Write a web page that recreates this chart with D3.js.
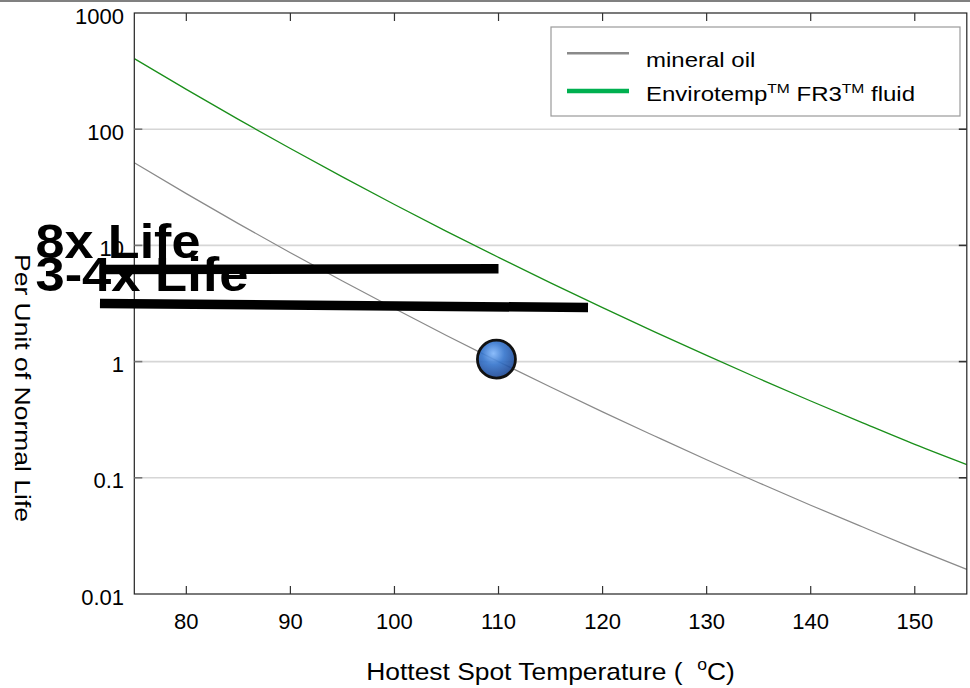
<!DOCTYPE html>
<html>
<head>
<meta charset="utf-8">
<script src="https://cdn.jsdelivr.net/npm/d3@7"></script>
<style>
  html, body { margin: 0; padding: 0; background: #fff; }
  svg { display: block; font-family: "Liberation Sans", Arial, Helvetica, sans-serif; }
</style>
</head>
<body>
<svg id="chart" width="970" height="688"></svg>
<script>
// ---------------- data ----------------
const temps = [75, 80, 85, 90, 95, 100, 105, 110, 115, 120, 125, 130, 135, 140, 145, 150, 155];
const mineralOil = [51.4, 27.9, 15.4, 8.65, 4.94, 2.86, 1.68, 1.0, 0.604, 0.369, 0.229, 0.143, 0.0907, 0.0581, 0.0377, 0.0246, 0.0163];
const fr3Fluid = [405, 220, 121.5, 68.2, 38.9, 22.5, 13.2, 7.89, 4.76, 2.91, 1.80, 1.13, 0.715, 0.458, 0.297, 0.194, 0.13];
const xTicks = [80, 90, 100, 110, 120, 130, 140, 150];
const yTicks = [0.01, 0.1, 1, 10, 100, 1000];
const yTickLabels = ["0.01", "0.1", "1", "10", "100", "1000"];
const lifeBarLabels = ["8x Life", "3-4x Life"];
const lifeBarStart = [[71.7, 6.2], [71.7, 3.16]];
const lifeBarEnd = [[110, 6.3], [118.6, 2.92]];
const lifeLabelAt = [[65.5, 7.85], [65.5, 4.08]];
const normalPoint = [109.8, 1.05];

(function () {
// ---------------- layout ----------------
const svg = d3.select("#chart");
const L = 134.3, R = 966.8, T = 13, B = 594;
const x = d3.scaleLinear().domain([75, 155]).range([L, R]);
const y = d3.scaleLog().domain([0.01, 1000]).range([B, T]);

// top gray strip
svg.append("rect").attr("x", 0).attr("y", 0).attr("width", 970).attr("height", 2).attr("fill", "#808080");

// gridlines
svg.append("g").selectAll("line").data(yTicks.slice(1, -1)).join("line")
  .attr("x1", L).attr("x2", R)
  .attr("y1", d => y(d)).attr("y2", d => y(d))
  .attr("stroke", "#d6d6d6").attr("stroke-width", 1.6);

// defs
const defs = svg.append("defs");
const grad = defs.append("radialGradient").attr("id", "ball").attr("cx", "42%").attr("cy", "35%").attr("r", "65%");
grad.append("stop").attr("offset", "0%").attr("stop-color", "#7fb5fa");
grad.append("stop").attr("offset", "45%").attr("stop-color", "#3474cc");
grad.append("stop").attr("offset", "100%").attr("stop-color", "#1b4592");
defs.append("clipPath").attr("id", "plotclip").append("rect")
  .attr("x", L).attr("y", T).attr("width", R - L).attr("height", B - T);

// curves
const line = d3.line().x(d => x(d[0])).y(d => y(d[1])).curve(d3.curveMonotoneX);
const plot = svg.append("g").attr("clip-path", "url(#plotclip)");
plot.append("path").datum(temps.map((t, i) => [t, mineralOil[i]]))
  .attr("d", line).attr("fill", "none").attr("stroke", "#8a8a8a").attr("stroke-width", 1.2);
plot.append("path").datum(temps.map((t, i) => [t, fr3Fluid[i]]))
  .attr("d", line).attr("fill", "none").attr("stroke", "#1a8f1a").attr("stroke-width", 1.3);

// dot
svg.append("circle").attr("cx", x(normalPoint[0])).attr("cy", y(normalPoint[1])).attr("r", 19)
  .attr("fill", "url(#ball)").attr("fill-opacity", 0.9)
  .attr("stroke", "#111").attr("stroke-width", 2.8);

// frame
svg.append("rect").attr("x", L).attr("y", T).attr("width", R - L).attr("height", B - T)
  .attr("fill", "none").attr("stroke", "#222").attr("stroke-width", 1.2);

// x ticks (inward, bottom & top)
const tk = 8;
svg.append("g").selectAll("line").data(xTicks).join("line")
  .attr("x1", d => x(d)).attr("x2", d => x(d)).attr("y1", B).attr("y2", B - tk)
  .attr("stroke", "#333").attr("stroke-width", 1.2);
svg.append("g").selectAll("line").data(xTicks).join("line")
  .attr("x1", d => x(d)).attr("x2", d => x(d)).attr("y1", T).attr("y2", T + tk)
  .attr("stroke", "#333").attr("stroke-width", 1.2);
// y ticks (inward, left & right)
svg.append("g").selectAll("line").data(yTicks.slice(1, -1)).join("line")
  .attr("x1", L).attr("x2", L + tk).attr("y1", d => y(d)).attr("y2", d => y(d))
  .attr("stroke", "#777").attr("stroke-width", 1.6);
svg.append("g").selectAll("line").data(yTicks.slice(1, -1)).join("line")
  .attr("x1", R).attr("x2", R - tk).attr("y1", d => y(d)).attr("y2", d => y(d))
  .attr("stroke", "#333").attr("stroke-width", 1.6);

// tick labels
svg.append("g").selectAll("text").data(xTicks).join("text")
  .attr("x", d => x(d)).attr("y", 629).attr("text-anchor", "middle")
  .attr("font-size", 22).attr("fill", "#000").text(d => d);
svg.append("g").selectAll("text").data(yTicks).join("text")
  .attr("x", 124).attr("y", d => y(d) + 10.5).attr("text-anchor", "end")
  .attr("font-size", 22).attr("fill", "#000").text((d, i) => yTickLabels[i]);

// life bars
svg.append("g").selectAll("line").data(lifeBarStart).join("line")
  .attr("x1", d => x(d[0])).attr("y1", d => y(d[1]))
  .attr("x2", (d, i) => x(lifeBarEnd[i][0])).attr("y2", (d, i) => y(lifeBarEnd[i][1]))
  .attr("stroke", "#000").attr("stroke-width", 9.5);

// life labels
const labelLens = [165, 213];
svg.append("g").selectAll("text").data(lifeBarLabels).join("text")
  .attr("x", (d, i) => x(lifeLabelAt[i][0])).attr("y", (d, i) => y(lifeLabelAt[i][1]))
  .attr("font-size", 49).attr("font-weight", "bold").attr("fill", "#000")
  .attr("textLength", (d, i) => labelLens[i]).attr("lengthAdjust", "spacingAndGlyphs")
  .text(d => d);

// axis titles
const xt = svg.append("g").attr("transform", `translate(${(L + R) / 2},680) scale(1.1,1)`)
  .append("text").attr("text-anchor", "middle").attr("font-size", 24).attr("fill", "#000");
xt.append("tspan").text("Hottest Spot Temperature (\u00a0\u00a0");
xt.append("tspan").attr("font-size", 16).attr("dy", -10).text("o");
xt.append("tspan").attr("dy", 10).text("C)");

svg.append("text").attr("transform", "translate(15,388) rotate(90)")
  .attr("text-anchor", "middle").attr("font-size", 22).attr("fill", "#000")
  .attr("textLength", 268).attr("lengthAdjust", "spacingAndGlyphs")
  .text("Per Unit of Normal Life");

// legend
const lg = svg.append("g");
lg.append("rect").attr("x", 551).attr("y", 27).attr("width", 409).attr("height", 89)
  .attr("fill", "#fff").attr("stroke", "#9a9a9a").attr("stroke-width", 1.2);
const legendItems = [
  { color: "#8a8a8a", width: 2.5, ly: 53.3 },
  { color: "#00b050", width: 4.5, ly: 91 }
];
lg.selectAll("line.lg").data(legendItems).join("line").attr("class", "lg")
  .attr("x1", 567).attr("x2", 629).attr("y1", d => d.ly).attr("y2", d => d.ly)
  .attr("stroke", d => d.color).attr("stroke-width", d => d.width);
lg.append("g").attr("transform", "translate(646,67) scale(1.2,1)")
  .append("text").attr("font-size", 20).attr("fill", "#000").text("mineral oil");
const t2 = lg.append("g").attr("transform", "translate(646,101) scale(1.2,1)")
  .append("text").attr("font-size", 20).attr("fill", "#000");
t2.append("tspan").text("Envirotemp");
t2.append("tspan").attr("font-size", 13).attr("dy", -8).text("TM");
t2.append("tspan").attr("dy", 8).text(" FR3");
t2.append("tspan").attr("font-size", 13).attr("dy", -8).text("TM");
t2.append("tspan").attr("dy", 8).text(" fluid");
})();
</script>
</body>
</html>
